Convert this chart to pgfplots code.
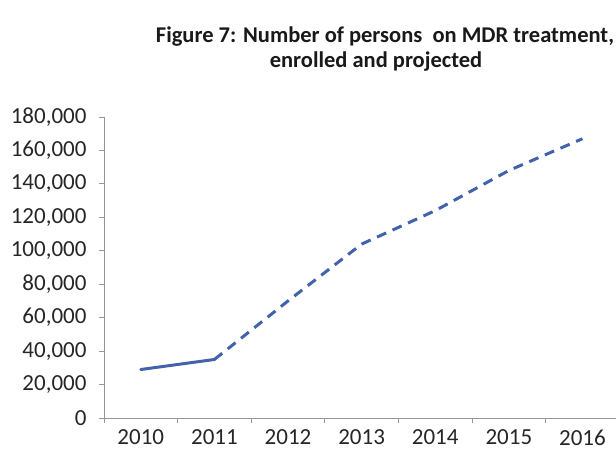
\documentclass[border=0pt]{standalone}
\usepackage{fontspec}
\setmainfont{Carlito}
\usepackage{pgfplots}
\pgfplotsset{compat=1.18}
\definecolor{lineblue}{RGB}{66,98,172}
\definecolor{axgray}{RGB}{150,150,150}
\begin{document}
\begin{tikzpicture}
\useasboundingbox (0,0) rectangle (616pt,459pt);
\node[font=\fontsize{22.5}{26}\selectfont\bfseries, text=black!90] at (385pt,422pt) {Figure 7: Number of persons\ \ on MDR treatment,};
\node[font=\fontsize{22.5}{26}\selectfont\bfseries, text=black!90] at (376pt,397pt) {enrolled and projected};
\begin{axis}[
  at={(104pt,41pt)}, anchor=south west,
  scale only axis, width=512pt, height=301pt,
  xmin=-0.5, xmax=6.456, ymin=0, ymax=180000,
  axis lines=left,
  axis line style={draw=axgray, line width=0.8pt, -},
  xtick={0,1,2,3,4,5,6},
  xticklabels={2010,2011,2012,2013,2014,2015,2016},
  major x tick style={draw=none},
  minor xtick={-0.5,0.5,1.5,2.5,3.5,4.5,5.5},
  ytick={0,20000,40000,60000,80000,100000,120000,140000,160000,180000},
  tick align=outside,
  major tick length=5pt, minor tick length=5pt,
  tick style={draw=axgray, line width=0.8pt},
  ticklabel style={font=\fontsize{23}{27}\selectfont, text=black!85},
  yticklabel style={xshift=-9pt},
  xticklabel style={yshift=-3pt},
  /pgf/number format/.cd, fixed, 1000 sep={,}, assume math mode=true,
  /pgfplots/.cd,
  scaled y ticks=false,
  clip=false,
]
\addplot[lineblue, line width=3pt, line cap=round, line join=round] coordinates {
  (0,29000) (1,35000)
};
\addplot[lineblue, line width=3pt, line join=round, dash pattern=on 10pt off 7pt] coordinates {
  (1,35000) (2,70000) (3,104000) (4,124000) (5,148000) (6,167000)
};
\end{axis}
\end{tikzpicture}
\end{document}
